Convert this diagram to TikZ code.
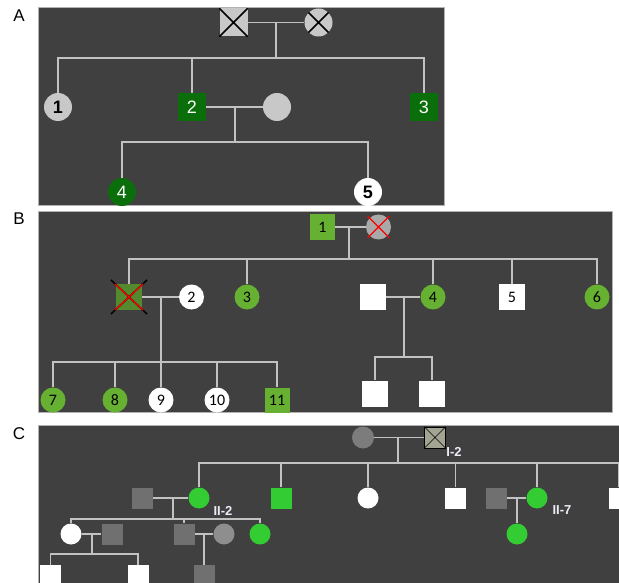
\documentclass[tikz,border=0pt]{standalone}
\usepackage{fontspec}
\setmainfont{Liberation Sans}
\newfontfamily\carlito{Carlito}
\usetikzlibrary{positioning,calc}
\definecolor{panelgray}{HTML}{404040}
\definecolor{linegray}{HTML}{C2C2C2}
\definecolor{paleA}{HTML}{C8C8C8}
\definecolor{greenA}{HTML}{0A6E0A}
\definecolor{greenB}{HTML}{66B032}
\definecolor{darkgreenB}{HTML}{55892E}
\definecolor{paleB}{HTML}{A9A9A9}
\definecolor{greenC}{HTML}{33CC33}
\definecolor{grayC}{HTML}{707070}
\definecolor{midgrayC}{HTML}{7C7C7C}
\definecolor{lightgrayC}{HTML}{8E8E8E}
\definecolor{oliveC}{HTML}{A4A492}
\definecolor{labelC}{HTML}{EEEAF6}

\begin{document}
\begin{tikzpicture}[x=1pt,y=-1pt,
    panel/.style={fill=panelgray,draw=gray!60,line width=0.8pt},
    tag/.style={font=\fontsize{17}{17}\selectfont,text=black},
    pedline/.style={draw=linegray,line width=1.5pt},
    male/.style={rectangle,inner sep=0pt,minimum size=#1},
    female/.style={circle,inner sep=0pt,minimum size=#1},
    numA/.style={font=\fontsize{18}{18}\selectfont},
    numB/.style={font=\carlito\fontsize{16}{16}\selectfont,text=black},
    idC/.style={font=\bfseries\fontsize{13}{13}\selectfont,text=labelC},
    deadline/.style={black,line width=1.5pt},
    redcross/.style={red,line width=1.3pt}]

\useasboundingbox (0,0) rectangle (619,583);

% Panel A
\node[tag] (tagA) at (19,16) {A};
\draw[panel] (38,7) rectangle (444,205);
\node[male=28,fill=paleA] (a0m) at (233.5,22.5) {};
\node[female=28,fill=paleA] (a0f) at (318.5,22.5) {};
\draw[deadline] (a0m.north west) -- (a0m.south east) (a0m.north east) -- (a0m.south west);
\draw[deadline] (a0f.north west) -- (a0f.south east) (a0f.north east) -- (a0f.south west);
\node[female=28,fill=paleA,numA,font=\bfseries\fontsize{18}{18}\selectfont] (a1) at (58,107) {1};
\node[male=28,fill=greenA,numA,text=white] (a2) at (192,107) {2};
\node[female=28,fill=paleA] (a2w) at (277,107) {};
\node[male=28,fill=greenA,numA,text=white] (a3) at (424,107) {3};
\node[female=28,fill=greenA,numA,text=white] (a4) at (122,192) {4};
\node[female=28,fill=white,numA,font=\bfseries\fontsize{18}{18}\selectfont] (a5) at (368,192) {5};
\coordinate (a0c) at (276,22.5);
\coordinate (a1s) at (276,58);
\coordinate (a2c) at (235,107);
\coordinate (a2s) at (235,142);
\draw[pedline] (a0m) -- (a0f);
\draw[pedline] (a0c) -- (a1s);
\draw[pedline] (a1) |- (a1s) -| (a3);
\draw[pedline] (a2) -- (a2 |- a1s);
\draw[pedline] (a2) -- (a2w);
\draw[pedline] (a2c) -- (a2s);
\draw[pedline] (a4) |- (a2s) -| (a5);

% Panel B
\node[tag] (tagB) at (19,219) {B};
\draw[panel] (38,211) rectangle (612,412);
\node[male=25,fill=greenB,numB] (b1) at (322.5,227) {1};
\node[female=25,fill=paleB] (b1w) at (378.5,227) {};
\draw[redcross] ([shift={(-11,-11)}]b1w.center) -- ([shift={(11,11)}]b1w.center)
  ([shift={(11,-11)}]b1w.center) -- ([shift={(-11,11)}]b1w.center);
\node[male=26,fill=darkgreenB] (b2m) at (129,297) {};
\draw[deadline] ([shift={(-18,-17)}]b2m.center) -- ([shift={(18,17)}]b2m.center)
  ([shift={(18,-17)}]b2m.center) -- ([shift={(-18,17)}]b2m.center);
\draw[redcross] ([shift={(-14,-13)}]b2m.center) -- ([shift={(14,13)}]b2m.center)
  ([shift={(14,-13)}]b2m.center) -- ([shift={(-14,13)}]b2m.center);
\node[female=25,fill=white,numB] (b2) at (191.5,297) {2};
\node[female=25,fill=greenB,numB] (b3) at (247,297) {3};
\node[male=26,fill=white] (b4h) at (373,297) {};
\node[female=25,fill=greenB,numB] (b4) at (433,297) {4};
\node[male=26,fill=white,numB] (b5) at (512,297) {5};
\node[female=25,fill=greenB,numB] (b6) at (597,297) {6};
\node[female=25,fill=greenB,numB] (b7) at (53,400) {7};
\node[female=25,fill=greenB,numB] (b8) at (115,400) {8};
\node[female=25,fill=white,numB] (b9) at (161,400) {9};
\node[female=25,fill=white,numB] (b10) at (217,400) {10};
\node[male=25,fill=greenB,numB] (b11) at (277,400) {11};
\node[male=26,fill=white] (b12) at (375,393.5) {};
\node[male=26,fill=white] (b13) at (432,393.5) {};
\coordinate (b1c) at (349,227);
\coordinate (b1s) at (349,259);
\coordinate (b2c) at (161,297);
\coordinate (b2s) at (161,362);
\coordinate (b4c) at (404,297);
\coordinate (b4s) at (404,357);
\draw[pedline] (b1) -- (b1w);
\draw[pedline] (b1c) -- (b1s);
\draw[pedline] (b2m) |- (b1s) -| (b6);
\foreach \kid in {b3,b4,b5}
  \draw[pedline] (\kid) -- (\kid |- b1s);
\draw[pedline] (b2m) -- (b2);
\draw[pedline] (b2c) -- (b9);
\draw[pedline] (b7) |- (b2s) -| (b11);
\foreach \kid in {b8,b10}
  \draw[pedline] (\kid) -- (\kid |- b2s);
\draw[pedline] (b4h) -- (b4);
\draw[pedline] (b4c) -- (b4s);
\draw[pedline] (b12) |- (b4s) -| (b13);

% Panel C
\node[tag] (tagC) at (19,434) {C};
\begin{scope}
\clip (0,0) rectangle (619,583);
\draw[panel] (38,425) rectangle (630,595);
\node[female=22,fill=midgrayC] (c0f) at (363,437.5) {};
\node[male=21,fill=oliveC,draw=black,line width=0.6pt] (c0m) at (435,437.5) {};
\draw[black,line width=0.6pt] (c0m.north west) -- (c0m.south east) (c0m.north east) -- (c0m.south west);
\node[idC] (c0id) at (454,452) {I-2};
\node[male=21,fill=grayC] (c2h) at (142.5,498) {};
\node[female=21,fill=greenC] (c2) at (199,498) {};
\node[idC] (c2id) at (223,511) {II-2};
\node[male=21,fill=greenC] (c3) at (281,498) {};
\node[female=21,fill=white] (c4) at (368,498) {};
\node[male=21,fill=white] (c5) at (455.5,498) {};
\node[male=21,fill=grayC] (c7h) at (496.5,498) {};
\node[female=21,fill=greenC] (c7) at (537,498) {};
\node[idC] (c7id) at (562,510) {II-7};
\node[male=21,fill=white] (c8) at (619,498) {};
\node[female=21,fill=white] (c9) at (71,534) {};
\node[male=21,fill=grayC] (c9h) at (112,534) {};
\node[male=21,fill=grayC] (c10) at (184,534) {};
\node[female=21,fill=lightgrayC] (c10w) at (224,534) {};
\node[female=21,fill=greenC] (c11) at (260,534) {};
\node[female=21,fill=greenC] (c12) at (517,534) {};
\node[male=21,fill=white] (c13) at (50.5,575.5) {};
\node[male=21,fill=white] (c14) at (138,575.5) {};
\node[male=21,fill=grayC] (c15) at (204,575.5) {};
\coordinate (c0c) at (398,437.5);
\coordinate (c1s) at (398,463);
\coordinate (c2c) at (173,498);
\coordinate (c2s) at (173,519);
\coordinate (c7c) at (517,498);
\coordinate (c9c) at (92,534);
\coordinate (c9s) at (92,554);
\coordinate (c10c) at (204,534);
\draw[pedline] (c0f) -- (c0m);
\draw[pedline] (c0c) -- (c1s);
\draw[pedline] (c2) |- (c1s) -| (c8);
\foreach \kid in {c3,c4,c5,c7}
  \draw[pedline] (\kid) -- (\kid |- c1s);
\draw[pedline] (c2h) -- (c2);
\draw[pedline] (c2c) -- (c2s);
\draw[pedline] (c9) |- (c2s) -| (c11);
\draw[pedline] (c10) -- (c10 |- c2s);
\draw[pedline] (c7h) -- (c7);
\draw[pedline] (c7c) -- (c12);
\draw[pedline] (c9) -- (c9h);
\draw[pedline] (c9c) -- (c9s);
\draw[pedline] (c13) |- (c9s) -| (c14);
\draw[pedline] (c10) -- (c10w);
\draw[pedline] (c10c) -- (c15);
\end{scope}
\end{tikzpicture}
\end{document}
